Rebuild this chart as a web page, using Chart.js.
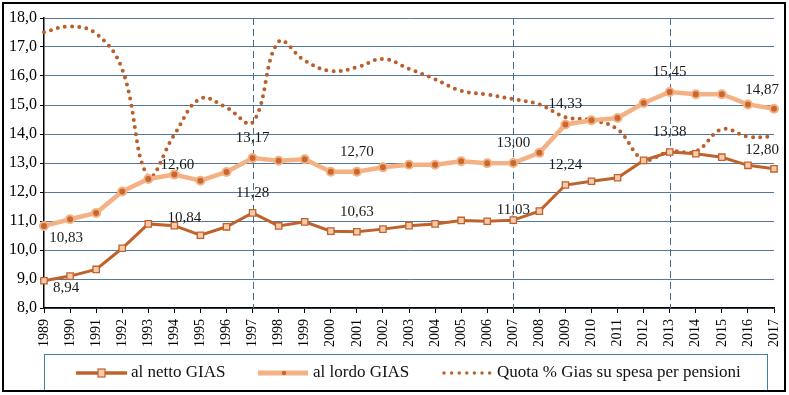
<!DOCTYPE html>
<html><head><meta charset="utf-8">
<script src="https://cdn.jsdelivr.net/npm/chart.js@4.4.0/dist/chart.umd.min.js"></script>
<style>html,body{margin:0;padding:0;background:#fff;}#wrap{position:relative;width:789px;height:395px;}canvas{display:block;}
#probe{position:absolute;left:-1000px;top:0;font-family:"Liberation Serif","Times New Roman",Times,serif;font-size:15px;}</style>
</head><body><div id="wrap"><canvas id="c" width="789" height="395"></canvas></div><span id="probe">al netto GIAS 12,60</span>
<script>
const years = ['1989','1990','1991','1992','1993','1994','1995','1996','1997','1998','1999','2000','2001','2002','2003','2004','2005','2006','2007','2008','2009','2010','2011','2012','2013','2014','2015','2016','2017'];
const alNetto = [8.94, 9.10, 9.33, 10.06, 10.90, 10.84, 10.51, 10.80, 11.28, 10.83, 10.97, 10.65, 10.63, 10.72, 10.84, 10.90, 11.02, 10.99, 11.03, 11.34, 12.24, 12.37, 12.49, 13.09, 13.38, 13.32, 13.20, 12.92, 12.80];
const alLordo = [10.83, 11.06, 11.28, 12.02, 12.45, 12.60, 12.39, 12.69, 13.17, 13.08, 13.13, 12.70, 12.70, 12.85, 12.94, 12.94, 13.06, 12.99, 13.00, 13.35, 14.33, 14.47, 14.55, 15.07, 15.45, 15.37, 15.37, 15.02, 14.87];
const quotaGias = [17.51, 17.71, 17.46, 16.23, 12.55, 13.98, 15.22, 14.91, 14.40, 17.18, 16.53, 16.17, 16.30, 16.59, 16.25, 15.89, 15.49, 15.36, 15.20, 15.02, 14.58, 14.48, 14.16, 13.12, 13.40, 13.40, 14.16, 13.91, 13.91];
const seriesNames = ['al netto GIAS', 'al lordo GIAS', 'Quota % Gias su spesa per pensioni'];
const markerYears = ['1997', '2007', '2013'];
const yMin = 8, yMax = 18, yStep = 1;
// labelled points: [dataset index, year]
const labelPoints = [
  [0,'1989'],[0,'1994'],[0,'1997'],[0,'2001'],[0,'2007'],[0,'2009'],[0,'2013'],[0,'2017'],
  [1,'1989'],[1,'1994'],[1,'1997'],[1,'2001'],[1,'2007'],[1,'2009'],[1,'2013'],[1,'2017']
];

const DARK = '#C0622B', LIGHT = '#F4B183', GRID = '#55779e';
const FONT = '"Liberation Serif", "Times New Roman", Times, serif';
const fmt = (v, d) => v.toFixed(d).replace('.', ',');

const vlinePlugin = {
  id: 'vlines',
  beforeDatasetsDraw(chart) {
    const {ctx, chartArea, scales} = chart;
    ctx.save();
    ctx.strokeStyle = '#4a6d94'; ctx.lineWidth = 1; ctx.setLineDash([7, 4]);
    markerYears.forEach(y => {
      const x = Math.round(scales.x.getPixelForValue(years.indexOf(y))) + 0.5;
      ctx.beginPath(); ctx.moveTo(x, chartArea.top); ctx.lineTo(x, chartArea.bottom); ctx.stroke();
    });
    ctx.restore();
  }
};

const labelPlugin = {
  id: 'lbls',
  afterDatasetsDraw(chart) {
    const ctx = chart.ctx;
    ctx.save();
    ctx.font = '15px ' + FONT;
    ctx.fillStyle = '#1a1a1a';
    ctx.textAlign = 'center'; ctx.textBaseline = 'middle';
    const last = years.length - 1;
    labelPoints.forEach(([ds, yr]) => {
      const i = years.indexOf(yr);
      const el = chart.getDatasetMeta(ds).data[i];
      const v = chart.data.datasets[ds].data[i];
      let dx = 0, dy = -20;
      if (i === 0) { dx = 22; dy = ds === 0 ? 7 : 12; }
      else if (i === last) { dx = -12; dy = -19; }
      else if (yr === '1994') { dx = ds === 0 ? 10 : 3; dy = ds === 0 ? -8 : -10; }
      else if (yr === '2007' && ds === 0) { dy = -10; }
      ctx.fillText(fmt(v, 2), el.x + dx, el.y + dy);
    });
    ctx.restore();
  }
};

const framePlugin = {
  id: 'frame',
  afterDraw(chart) {
    const ctx = chart.ctx;
    ctx.save();
    ctx.strokeStyle = '#3f7ea6'; ctx.lineWidth = 1;
    ctx.strokeRect(44.5, 354.5, 723, 36);
    const ly = 373;
    ctx.font = '17px ' + FONT;
    ctx.textBaseline = 'middle'; ctx.textAlign = 'left';
    // item 1
    ctx.strokeStyle = DARK; ctx.lineWidth = 3.5;
    ctx.beginPath(); ctx.moveTo(76, ly); ctx.lineTo(127, ly); ctx.stroke();
    ctx.fillStyle = '#F8CBAD'; ctx.lineWidth = 1.2;
    ctx.fillRect(98, ly - 4, 7, 8); ctx.strokeRect(98, ly - 4, 7, 8);
    ctx.fillStyle = '#111'; ctx.fillText(seriesNames[0], 131, ly);
    // item 2
    ctx.strokeStyle = LIGHT; ctx.lineWidth = 5;
    ctx.beginPath(); ctx.moveTo(258, ly); ctx.lineTo(308, ly); ctx.stroke();
    ctx.fillStyle = '#C8682F';
    ctx.beginPath(); ctx.arc(284, ly, 2.2, 0, Math.PI * 2); ctx.fill();
    ctx.fillStyle = '#111'; ctx.fillText(seriesNames[1], 313, ly);
    // item 3
    ctx.strokeStyle = DARK; ctx.lineWidth = 3.5; ctx.lineCap = 'round'; ctx.setLineDash([0, 7.6]);
    ctx.beginPath(); ctx.moveTo(444, ly); ctx.lineTo(492, ly); ctx.stroke();
    ctx.setLineDash([]); ctx.lineCap = 'butt';
    ctx.fillStyle = '#111'; ctx.fillText(seriesNames[2], 497, ly);
    // outer frame
    ctx.strokeStyle = '#000'; ctx.lineWidth = 2;
    ctx.strokeRect(3, 3, 782, 388);
    ctx.restore();
  }
};

function build() {
  new Chart(document.getElementById('c'), {
    type: 'line',
    data: {
      labels: years,
      datasets: [
        { label: seriesNames[0], data: alNetto, order: 0, borderColor: DARK, borderWidth: 3,
          pointStyle: 'rect', pointRadius: 4.5, pointBackgroundColor: '#F8CBAD', pointBorderColor: DARK, pointBorderWidth: 1.3, tension: 0 },
        { label: seriesNames[1], data: alLordo, order: 1, borderColor: LIGHT, borderWidth: 4.5,
          pointStyle: 'circle', pointRadius: 4, pointBackgroundColor: '#C8682F', pointBorderColor: LIGHT, pointBorderWidth: 2, tension: 0 },
        { label: seriesNames[2], data: quotaGias, order: 2, borderColor: '#BA5E2A', borderWidth: 4,
          borderDash: [0, 7.2], borderCapStyle: 'round', pointRadius: 0, tension: 0.4, cubicInterpolationMode: 'default' }
      ]
    },
    options: {
      responsive: false, animation: false,
      layout: { padding: { left: 0, right: 15, top: 18, bottom: 47 } },
      plugins: { legend: { display: false }, tooltip: { enabled: false } },
      scales: {
        x: {
          offset: false,
          grid: { drawOnChartArea: false, drawTicks: true, tickLength: 5, tickColor: '#000' },
          border: { color: '#000', width: 1.5 },
          ticks: { minRotation: 90, maxRotation: 90, autoSkip: false, color: '#000', font: { family: FONT, size: 14 }, padding: 6 },
          afterFit: s => { s.height = 40; s.paddingLeft = 0; s.paddingRight = 0; }
        },
        y: {
          min: yMin, max: yMax,
          ticks: { stepSize: yStep, callback: v => fmt(v, 1), color: '#000', font: { family: FONT, size: 16 }, padding: 3 },
          grid: { color: GRID, lineWidth: 1, tickLength: 4, tickColor: '#000' },
          border: { color: '#000', width: 1.5 },
          afterFit: s => { s.width = 44; s.paddingTop = 0; s.paddingBottom = 0; }
        }
      }
    },
    plugins: [vlinePlugin, labelPlugin, framePlugin]
  });
}
if (document.fonts && document.fonts.load) {
  Promise.all([document.fonts.load('16px "Liberation Serif"')]).then(build, build);
} else { build(); }
</script></body></html>
